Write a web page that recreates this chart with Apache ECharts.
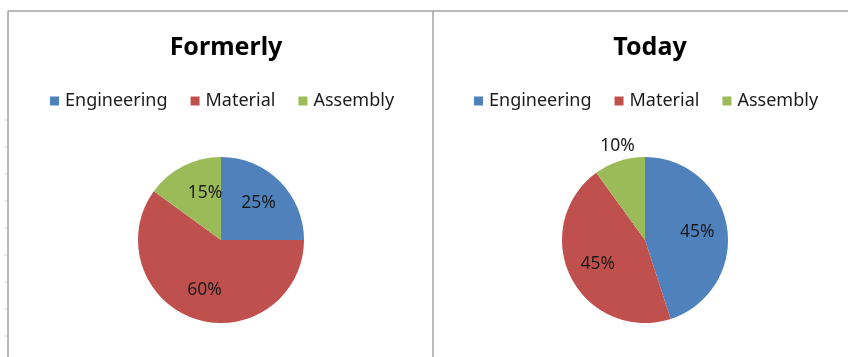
<!DOCTYPE html>
<html>
<head>
<meta charset="utf-8">
<script src="https://cdn.jsdelivr.net/npm/echarts@6/dist/echarts.min.js"></script>
<style>
html,body{margin:0;padding:0;background:#fff;}
#main{width:848px;height:357px;}
</style>
</head>
<body>
<div id="main"></div>
<script>
const categories = ['Engineering', 'Material', 'Assembly'];
const formerlyValues = [25, 60, 15];
const todayValues = [45, 45, 10];
const chartTitles = ['Formerly', 'Today'];
const colors = ['#4F81BD', '#C0504D', '#9BBB59'];

const FONT = '"Noto Sans", "Open Sans", sans-serif';
const centers = [[221, 240], [645, 240]];
const R = 83;

function makeData(vals, outsideIdx) {
  return categories.map((c, i) => {
    const d = { name: c, value: vals[i] };
    if (i === outsideIdx) d.label = { position: 'outside' };
    return d;
  });
}

const series = [];
[formerlyValues, todayValues].forEach((vals, k) => {
  series.push({
    type: 'pie',
    center: centers[k],
    radius: [0, R],
    startAngle: 90,
    clockwise: true,
    data: makeData(vals, -1),
    label: { show: false },
    labelLine: { show: false },
    itemStyle: { borderWidth: 0 },
    emphasis: { disabled: true },
    silent: true
  });
});
// label layers (transparent) so labels sit at ~0.6 of radius like the reference
[formerlyValues, todayValues].forEach((vals, k) => {
  series.push({
    type: 'pie',
    center: centers[k],
    radius: [17, R],
    startAngle: 90,
    clockwise: true,
    data: makeData(vals, k === 1 ? 2 : -1),
    itemStyle: { color: 'rgba(0,0,0,0)', borderWidth: 0 },
    label: {
      show: true,
      position: 'inside',
      formatter: '{c}%',
      color: '#1b1b1b',
      fontSize: 17.5,
      fontFamily: FONT
    },
    labelLine: { show: false, length: 16, length2: 0 },
    labelLayout: function (p) { return p.dataIndex === 2 ? { align: 'center', dx: 8 } : {}; },
    emphasis: { disabled: true },
    silent: true,
    legendHoverLink: false
  });
});

const legendCommon = {
  data: categories,
  top: 87,
  icon: 'rect',
  itemWidth: 9,
  itemHeight: 9,
  itemGap: 23,
  textStyle: { fontSize: 18, fontFamily: FONT, color: '#1b1b1b', padding: [0, 0, 0, 1] },
  selectedMode: false
};

const ticks = [];
for (let y = 120; y < 357; y += 27) {
  ticks.push({ type: 'line', shape: { x1: 4, y1: y, x2: 8, y2: y }, style: { stroke: '#d8d8d8', lineWidth: 1 } });
}

const option = {
  backgroundColor: '#ffffff',
  color: colors,
  animation: false,
  title: chartTitles.map((t, k) => ({
    text: t,
    left: centers[k][0],
    textAlign: 'center',
    top: 30,
    textStyle: { fontSize: 25, fontWeight: 'bold', fontFamily: FONT, color: '#000' }
  })),
  legend: [
    Object.assign({}, legendCommon, { left: 45 }),
    Object.assign({}, legendCommon, { left: 469 })
  ],
  graphic: ticks.concat([
    { type: 'line', shape: { x1: 8, y1: 11, x2: 848, y2: 11 }, style: { stroke: '#a3a3a3', lineWidth: 1.5 } },
    { type: 'line', shape: { x1: 8, y1: 11, x2: 8, y2: 357 }, style: { stroke: '#a3a3a3', lineWidth: 1.5 } },
    { type: 'line', shape: { x1: 433, y1: 11, x2: 433, y2: 357 }, style: { stroke: '#a3a3a3', lineWidth: 1.5 } }
  ]),
  series: series
};

const chart = echarts.init(document.getElementById('main'), null, { renderer: 'canvas' });
chart.setOption(option);
</script>
</body>
</html>
